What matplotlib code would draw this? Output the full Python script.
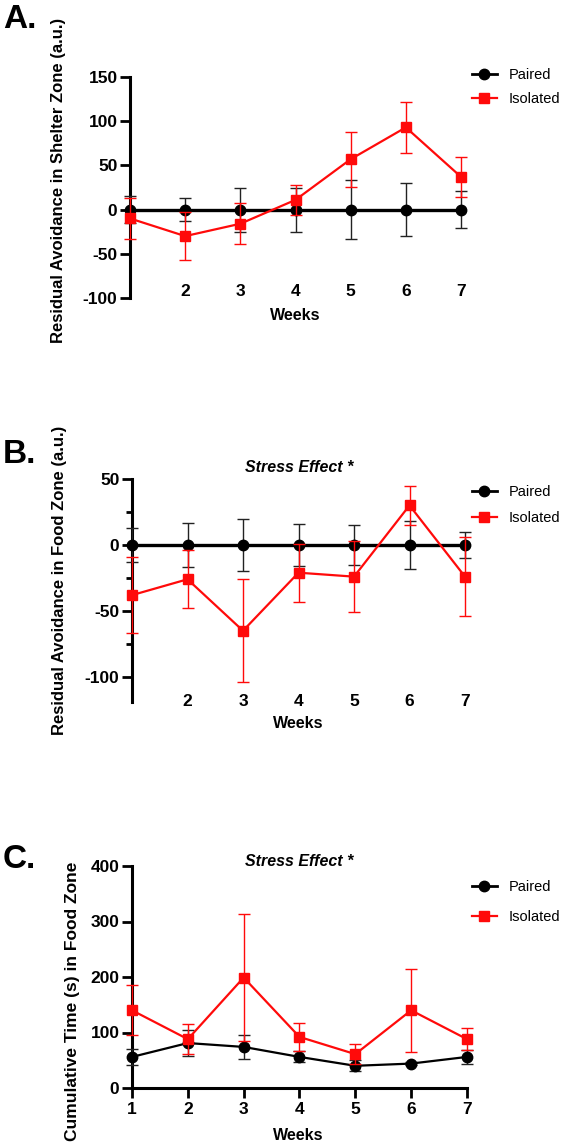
import matplotlib
matplotlib.use("Agg")
import matplotlib.pyplot as plt
from matplotlib.lines import Line2D

plt.rcParams['font.family'] = ['Liberation Sans', 'DejaVu Sans']
plt.rcParams['axes.unicode_minus'] = False

W, H = 570, 1143

weeks = [1, 2, 3, 4, 5, 6, 7]

# A. shelter zone
a_paired_mean = [0, 0, 0, 0, 0, 0, 0]
a_paired_sem = [15, 13, 25, 25, 33, 30, 21]
a_iso_mean = [-10, -30, -16, 11, 57, 93, 37]
a_iso_sem = [23, 27, 23, 17, 31, 29, 23]

# B. food zone
b_paired_mean = [0, 0, 0, 0, 0, 0, 0]
b_paired_sem = [13, 17, 20, 16, 15, 18, 10]
b_iso_mean = [-38, -26, -65, -21, -24, 30, -24]
b_iso_sem = [29, 22, 39, 22, 27, 15, 30]

# C. cumulative time in food zone
c_paired_mean = [56, 81, 74, 56, 40, 44, 56]
c_paired_sem = [15, 23, 22, 10, 10, 3, 13]
c_iso_mean = [140, 88, 199, 92, 61, 140, 88]
c_iso_sem = [45, 27, 114, 25, 18, 75, 20]

RED = '#ff0a0a'
TICK_FS = 12.5
LAB_FS = 12

fig = plt.figure(figsize=(W / 100, H / 100), dpi=100)


def px_axes(left, top, right, bottom):
    return fig.add_axes([left / W, 1 - bottom / H, (right - left) / W, (bottom - top) / H])


def draw(ax, pm, ps, im, isem, lw):
    ax.errorbar(weeks, pm, yerr=ps, color='black', ecolor='#222222', elinewidth=1,
                capsize=4, capthick=1, marker='o', markersize=7.5, linewidth=lw,
                clip_on=False, zorder=3)
    ax.errorbar(weeks, im, yerr=isem, color=RED, ecolor=RED, elinewidth=1,
                capsize=4, capthick=1, marker='s', markersize=7, linewidth=1.6,
                clip_on=False, zorder=4)


def style(ax):
    for s in ['top', 'right']:
        ax.spines[s].set_visible(False)
    ax.spines['left'].set_linewidth(2.2)
    ax.spines['bottom'].set_linewidth(2.2)
    ax.tick_params(axis='y', direction='out', length=7, width=2, labelsize=TICK_FS, pad=2)
    for t in ax.get_yticklabels() + ax.get_xticklabels():
        t.set_fontweight('bold')


def add_legend(ax, x, y, spacing):
    handles = [Line2D([], [], color='black', marker='o', markersize=7.5, lw=2),
               Line2D([], [], color=RED, marker='s', markersize=7, lw=1.6)]
    ax.legend(handles, ['Paired', 'Isolated'], loc='upper left',
              bbox_to_anchor=(x / W, 1 - y / H), bbox_transform=fig.transFigure,
              frameon=False, borderpad=0, borderaxespad=0, handlelength=1.7,
              handletextpad=0.8, labelspacing=spacing, fontsize=10.5)


# ---- Panel A ----
axA = px_axes(130, 77, 130 + 6.15 * 55.17, 298)
draw(axA, a_paired_mean, a_paired_sem, a_iso_mean, a_iso_sem, 2.4)
axA.set_xlim(1, 7.15)
axA.set_ylim(-100, 150)
axA.set_yticks([-100, -50, 0, 50, 100, 150])
axA.spines['bottom'].set_visible(False)
axA.set_xticks([2, 3, 4, 5, 6, 7])
axA.tick_params(axis='x', length=0, pad=-10, labelsize=TICK_FS)
style(axA)
axA.set_ylabel('Residual Avoidance in Shelter Zone (a.u.)', fontweight='bold', fontsize=LAB_FS)
axA.yaxis.set_label_coords(-0.19, 0.534)
add_legend(axA, 472, 68, 0.7)
fig.text(295 / W, 1 - 315 / H, 'Weeks', ha='center', va='center', fontweight='bold', fontsize=11.5)
fig.text(3 / W, 1 - 28 / H, 'A.', ha='left', va='baseline', fontweight='bold', fontsize=24)

# ---- Panel B ----
axB = px_axes(132, 479, 132 + 6.15 * 55.5, 702)
draw(axB, b_paired_mean, b_paired_sem, b_iso_mean, b_iso_sem, 2.4)
axB.set_xlim(1, 7.15)
axB.set_ylim(-119, 50)
axB.set_yticks([-100, -50, 0, 50])
axB.set_yticks([-75, -25, 25], minor=True)
axB.tick_params(axis='y', which='minor', direction='out', length=4, width=2)
axB.spines['bottom'].set_visible(False)
axB.set_xticks([2, 3, 4, 5, 6, 7])
axB.tick_params(axis='x', length=0, pad=-6, labelsize=TICK_FS)
style(axB)
axB.set_ylabel('Residual Avoidance in Food Zone (a.u.)', fontweight='bold', fontsize=LAB_FS)
axB.yaxis.set_label_coords(-0.19, 0.547)
add_legend(axB, 472, 485, 0.85)
fig.text(298 / W, 1 - 723 / H, 'Weeks', ha='center', va='center', fontweight='bold', fontsize=11.5)
fig.text(299 / W, 1 - 467 / H, 'Stress Effect *', ha='center', va='center',
         fontweight='bold', fontstyle='italic', fontsize=11.5)
fig.text(3 / W, 1 - 463 / H, 'B.', ha='left', va='baseline', fontweight='bold', fontsize=24)

# ---- Panel C ----
axC = px_axes(132, 866, 132 + 6.15 * 55.83, 1088)
draw(axC, c_paired_mean, c_paired_sem, c_iso_mean, c_iso_sem, 1.6)
axC.set_xlim(1, 7.15)
axC.set_ylim(0, 400)
axC.set_yticks([0, 100, 200, 300, 400])
axC.spines['bottom'].set_bounds(1, 7)
axC.set_xticks(weeks)
axC.tick_params(axis='x', direction='out', length=7, width=2, pad=3, labelsize=TICK_FS)
style(axC)
axC.set_ylabel('Cumulative Time (s) in Food Zone', fontweight='bold', fontsize=12.5)
axC.yaxis.set_label_coords(-0.15, 0.39)
add_legend(axC, 472, 880, 1.1)
fig.text(298 / W, 1 - 1135 / H, 'Weeks', ha='center', va='center', fontweight='bold', fontsize=11.5)
fig.text(299 / W, 1 - 862 / H, 'Stress Effect *', ha='center', va='center',
         fontweight='bold', fontstyle='italic', fontsize=11.5)
fig.text(3 / W, 1 - 868 / H, 'C.', ha='left', va='baseline', fontweight='bold', fontsize=24)

fig.savefig('out.png', dpi=100)
